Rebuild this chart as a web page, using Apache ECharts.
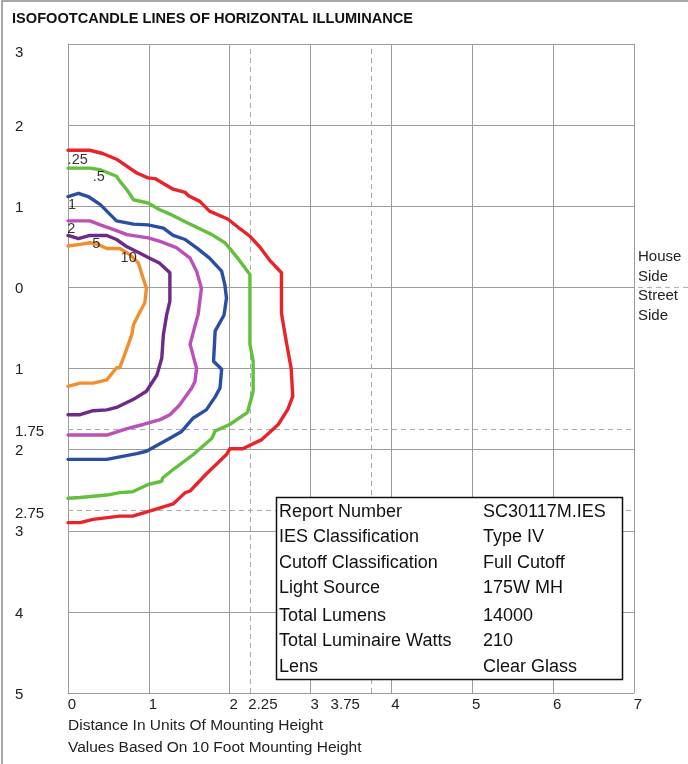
<!DOCTYPE html>
<html>
<head>
<meta charset="utf-8">
<script src="https://cdn.jsdelivr.net/npm/echarts@6/dist/echarts.min.js"></script>
<style>
html,body{margin:0;padding:0;background:#fff;}
#chart{width:688px;height:764px;}
</style>
</head>
<body>
<div id="chart"></div>
<script>
// ---- data ----
const contourNames = ['.25', '.5', '1', '2', '5', '10'];
const contourColors = ['#e8232a', '#62c03c', '#2b4ea5', '#bc4fb8', '#6d2a86', '#f38e2c'];
const fc025 = [[0,1.69],[0.27,1.69],[0.43,1.65],[0.6,1.58],[0.85,1.41],[0.99,1.35],[1.08,1.34],[1.3,1.21],[1.45,1.17],[1.49,1.13],[1.63,1.06],[1.75,0.94],[1.98,0.84],[2.13,0.72],[2.25,0.63],[2.37,0.5],[2.49,0.34],[2.64,0.18],[2.64,-0.32],[2.7,-0.67],[2.76,-1.0],[2.78,-1.34],[2.72,-1.5],[2.6,-1.69],[2.39,-1.88],[2.16,-1.99],[2.0,-1.99],[1.96,-2.06],[1.71,-2.3],[1.51,-2.51],[1.45,-2.53],[1.3,-2.67],[1.1,-2.73],[0.8,-2.82],[0.64,-2.82],[0.31,-2.86],[0.15,-2.9],[0,-2.9]];
const fc05 = [[0,1.47],[0.27,1.47],[0.4,1.45],[0.6,1.37],[0.64,1.31],[0.73,1.2],[0.81,1.08],[0.99,1.04],[1.13,0.96],[1.29,0.89],[1.45,0.81],[1.59,0.74],[1.78,0.65],[1.94,0.55],[2.0,0.48],[2.13,0.32],[2.25,0.16],[2.25,-0.7],[2.29,-0.91],[2.29,-1.28],[2.22,-1.54],[2.0,-1.69],[1.82,-1.77],[1.78,-1.86],[1.55,-2.06],[1.32,-2.23],[1.17,-2.35],[1.16,-2.39],[0.99,-2.43],[0.8,-2.52],[0.64,-2.53],[0.48,-2.56],[0.15,-2.59],[0,-2.6]];
const fc1 = [[0,1.12],[0.13,1.16],[0.25,1.12],[0.4,1.02],[0.6,0.82],[0.81,0.78],[0.99,0.77],[1.18,0.73],[1.3,0.64],[1.45,0.59],[1.6,0.48],[1.75,0.36],[1.9,0.2],[1.94,0.03],[1.96,-0.13],[1.93,-0.34],[1.82,-0.54],[1.8,-0.91],[1.9,-1.01],[1.88,-1.24],[1.82,-1.35],[1.71,-1.51],[1.55,-1.61],[1.4,-1.78],[1.26,-1.86],[0.97,-2.02],[0.85,-2.05],[0.48,-2.12],[0,-2.12]];
const fc2 = [[0,0.82],[0.27,0.82],[0.4,0.77],[0.6,0.7],[0.73,0.65],[0.99,0.61],[1.13,0.57],[1.34,0.49],[1.51,0.36],[1.59,0.2],[1.65,-0.01],[1.61,-0.33],[1.51,-0.7],[1.59,-1.0],[1.57,-1.16],[1.53,-1.24],[1.38,-1.45],[1.26,-1.57],[1.14,-1.63],[0.93,-1.69],[0.73,-1.74],[0.48,-1.82],[0,-1.82]];
const fc5 = [[0,0.64],[0.13,0.6],[0.27,0.64],[0.48,0.64],[0.6,0.59],[0.73,0.5],[0.89,0.42],[1.01,0.36],[1.13,0.3],[1.26,0.18],[1.26,-0.17],[1.22,-0.34],[1.18,-0.58],[1.16,-0.87],[1.1,-1.08],[0.97,-1.28],[0.81,-1.38],[0.6,-1.48],[0.48,-1.51],[0.31,-1.52],[0.15,-1.57],[0,-1.57]];
const fc10 = [[0,0.51],[0.15,0.53],[0.27,0.55],[0.37,0.53],[0.48,0.48],[0.64,0.48],[0.77,0.4],[0.87,0.3],[0.93,0.11],[0.97,-0.01],[0.95,-0.19],[0.87,-0.34],[0.81,-0.46],[0.79,-0.58],[0.7,-0.83],[0.64,-0.99],[0.6,-0.99],[0.48,-1.14],[0.31,-1.18],[0.15,-1.18],[0,-1.22]];
const contourData = [fc025, fc05, fc1, fc2, fc5, fc10];
const contourLabelPos = [[0.12,1.57],[0.38,1.36],[0.05,1.01],[0.04,0.72],[0.35,0.53],[0.75,0.36]];
const xTickLabels = [0, 1, 2, 2.25, 3, 3.75, 4, 5, 6, 7];
const yTickLabels = [3, 2, 1, 0, -1, -1.75, -2, -2.75, -3, -4, -5];
const refX = [2.25, 3.75];
const refY = [-1.75, -2.75];
const sideDividerY = 0;
const tableLabels = ['Report Number', 'IES Classification', 'Cutoff Classification', 'Light Source', 'Total Lumens', 'Total Luminaire Watts', 'Lens'];
const tableValues = ['SC30117M.IES', 'Type IV', 'Full Cutoff', '175W MH', '14000', '210', 'Clear Glass'];
const titleText = 'ISOFOOTCANDLE LINES OF HORIZONTAL ILLUMINANCE';
const xNameLines = ['Distance In Units Of Mounting Height', 'Values Based On 10 Foot Mounting Height'];
const sideLabels = ['House', 'Side', 'Street', 'Side'];

// ---- chart ----
const FONT = '"Liberation Sans", Arial, sans-serif';
const gridColor = '#9c9c9c';
const chart = echarts.init(document.getElementById('chart'));

const series = contourData.map((d, i) => ({
  type: 'line',
  name: contourNames[i],
  data: d,
  showSymbol: false,
  symbol: 'none',
  clip: false,
  smooth: false,
  z: 5,
  lineStyle: { color: contourColors[i], width: 3.4, join: 'round', cap: 'round' },
  animation: false
}));

series.push({
  type: 'scatter',
  name: 'labels',
  data: contourLabelPos.map((p, i) => ({ value: p, name: contourNames[i] })),
  symbolSize: 0,
  z: 6,
  label: {
    show: true,
    position: 'inside',
    formatter: p => p.name,
    color: '#000',
    fontSize: 14.5,
    fontFamily: FONT
  },
  animation: false
});

series.push({
  type: 'line',
  name: 'refs',
  data: [],
  z: 3,
  markLine: {
    silent: true,
    symbol: 'none',
    animation: false,
    label: { show: false },
    lineStyle: { color: '#aaaaaa', type: [5, 4], width: 1 },
    data: refX.map(v => ({ xAxis: v })).concat(refY.map(v => ({ yAxis: v })))
  }
});

const graphics = [
  { type: 'rect', z: 0, shape: { x: 2, y: 1, width: 800, height: 900 },
    style: { fill: 'none', stroke: '#8c8c8c', lineWidth: 1.5 } },
  { type: 'rect', z: 100, shape: { x: 276.5, y: 497.5, width: 346, height: 182 },
    style: { fill: '#fff', stroke: '#111', lineWidth: 1.5 } }
];
const rowY = [512, 537, 563, 588, 616, 641, 667];
tableLabels.forEach((t, i) => {
  graphics.push({ type: 'text', z: 101, x: 279, y: rowY[i],
    style: { text: t, font: '18px ' + FONT, fill: '#111', textVerticalAlign: 'middle' } });
  graphics.push({ type: 'text', z: 101, x: 483, y: rowY[i],
    style: { text: tableValues[i], font: '18px ' + FONT, fill: '#111', textVerticalAlign: 'middle' } });
});
xNameLines.forEach((t, i) => {
  graphics.push({ type: 'text', z: 10, x: 68, y: 726 + i * 22,
    style: { text: t, font: '15.5px ' + FONT, fill: '#222', textVerticalAlign: 'middle' } });
});
const sideY = [257, 277, 296, 316];
sideLabels.forEach((t, i) => {
  graphics.push({ type: 'text', z: 10, x: 638, y: sideY[i],
    style: { text: t, font: '15px ' + FONT, fill: '#222', textVerticalAlign: 'middle' } });
});

const option = {
  animation: false,
  backgroundColor: '#fff',
  title: {
    text: titleText,
    left: 12, top: 11, padding: 0,
    textStyle: { fontFamily: FONT, fontSize: 14.6, fontWeight: 'bold', color: '#111' }
  },
  grid: { left: 68, right: 54, top: 44, bottom: 71, containLabel: false, outerBoundsMode: 'none' },
  xAxis: {
    type: 'value', min: 0, max: 7, interval: 1,
    axisLine: { show: true, onZero: false, lineStyle: { color: gridColor, width: 1 } },
    axisTick: { show: false },
    splitLine: { show: true, lineStyle: { color: gridColor, width: 1 } },
    axisLabel: {
      customValues: xTickLabels,
      margin: 4,
      color: '#222', fontSize: 15, fontFamily: FONT,
      formatter: v => {
        if (v === 2.25) return '{a|2.25}';
        if (v === 3.75) return '{b|3.75}';
        return '{n|' + v + '}';
      },
      rich: {
        n: { fontSize: 15, fontFamily: FONT, color: '#222', padding: [0, 0, 0, 8] },
        a: { fontSize: 15, fontFamily: FONT, color: '#222', padding: [0, 0, 0, 26] },
        b: { fontSize: 15, fontFamily: FONT, color: '#222', padding: [0, 52, 0, 0] }
      }
    }
  },
  yAxis: {
    type: 'value', min: -5, max: 3, interval: 1,
    axisLine: { show: true, onZero: false, lineStyle: { color: gridColor, width: 1 } },
    axisTick: { show: false },
    splitLine: { show: true, lineStyle: { color: gridColor, width: 1 } },
    axisLabel: {
      customValues: yTickLabels,
      align: 'left',
      margin: 53,
      color: '#222', fontSize: 15, fontFamily: FONT,
      formatter: v => {
        const s = String(Math.abs(v));
        if (v === 3) return '{t|' + s + '}';
        if (v === -1.75 || v === -2.75) return '{d|' + s + '}';
        return '{n|' + s + '}';
      },
      rich: {
        t: { fontSize: 15, fontFamily: FONT, color: '#222', padding: [18, 0, 0, 0] },
        d: { fontSize: 15, fontFamily: FONT, color: '#222', padding: [6, 0, 0, 0] },
        n: { fontSize: 15, fontFamily: FONT, color: '#222', padding: [3, 0, 0, 0] }
      }
    }
  },
  graphic: graphics,
  series: series
};
chart.setOption(option);

// dashed House/Street divider continuing past the plot edge, positioned via the axis scale
const p0 = chart.convertToPixel({ xAxisIndex: 0, yAxisIndex: 0 }, [7, sideDividerY]);
graphics.push({ type: 'line', z: 4,
  shape: { x1: p0[0] + 4, y1: p0[1], x2: 688, y2: p0[1] },
  style: { stroke: '#aaaaaa', lineWidth: 1, lineDash: [5, 4] } });
chart.setOption({ graphic: graphics });
</script>
</body>
</html>
